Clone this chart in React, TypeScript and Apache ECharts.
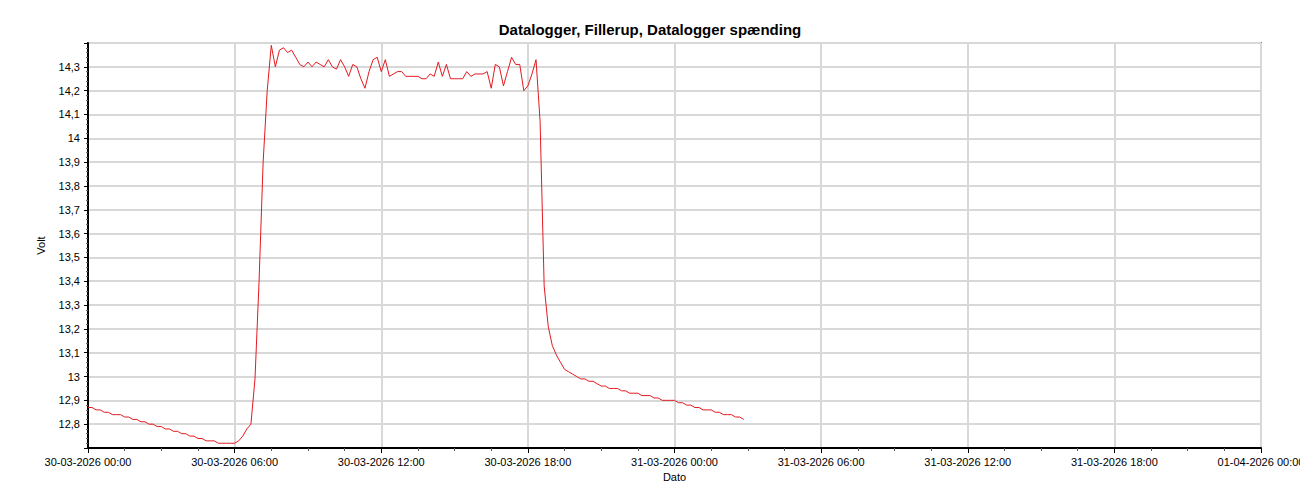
import React, { useEffect, useRef } from "react";
import * as echarts from "echarts";

// Sampling: one reading every 10 minutes starting 30-03-2026 00:00
const SAMPLE_MINUTES = 10;

const X_TICK_LABELS = [
  "30-03-2026 00:00",
  "30-03-2026 06:00",
  "30-03-2026 12:00",
  "30-03-2026 18:00",
  "31-03-2026 00:00",
  "31-03-2026 06:00",
  "31-03-2026 12:00",
  "31-03-2026 18:00",
  "01-04-2026 00:00",
];

const HIDDEN_Y_LABELS = [12.7, 14.4];

const VOLT = [
  // 00:00 - 05:50
  12.87, 12.87, 12.86, 12.86, 12.85, 12.85, 12.84, 12.84, 12.84, 12.83, 12.83, 12.82,
  12.82, 12.81, 12.81, 12.8, 12.8, 12.79, 12.79, 12.78, 12.78, 12.77, 12.77, 12.76,
  12.76, 12.75, 12.75, 12.74, 12.74, 12.73, 12.73, 12.73, 12.72, 12.72, 12.72, 12.72,
  // 06:00 - 07:30
  12.72, 12.73, 12.75, 12.78, 12.8, 12.99, 13.4, 13.9, 14.2, 14.39,
  // 07:40 - 12:50
  14.3, 14.37, 14.38, 14.36, 14.37, 14.34, 14.31, 14.3, 14.32, 14.3, 14.32, 14.31,
  14.3, 14.33, 14.3, 14.29, 14.33, 14.3, 14.26, 14.31, 14.3, 14.25, 14.21, 14.28,
  14.33, 14.34, 14.28, 14.33, 14.26, 14.27, 14.28, 14.28, 14.26,
  // 13:10 - 18:20
  14.26, 14.26, 14.26, 14.25, 14.25, 14.27, 14.26, 14.32, 14.26, 14.31, 14.25, 14.25,
  14.25, 14.25, 14.28, 14.26, 14.27, 14.27, 14.27, 14.28, 14.21, 14.31, 14.3, 14.22,
  14.28, 14.34, 14.31, 14.31, 14.2, 14.22, 14.27, 14.33,
  // 18:30 - 31-03 02:50
  14.07, 13.38, 13.21, 13.13, 13.09, 13.06, 13.03, 13.02, 13.01, 13.0, 12.99, 12.99,
  12.98, 12.98, 12.97, 12.96, 12.96, 12.95, 12.95, 12.95, 12.94, 12.94, 12.93, 12.93,
  12.93, 12.92, 12.92, 12.92, 12.91, 12.91, 12.9, 12.9, 12.9, 12.9, 12.89, 12.89,
  12.88, 12.88, 12.87, 12.87, 12.86, 12.86, 12.86, 12.85, 12.85, 12.84, 12.84, 12.84,
  12.83, 12.83, 12.82,
];

const FONT = "'Liberation Sans', Arial, sans-serif";

export default function App() {
  const ref = useRef<HTMLDivElement>(null);

  useEffect(() => {
    document.body.style.margin = "0";
    if (!ref.current) return;
    const chart = echarts.init(ref.current, null, { renderer: "svg" });
    const data = VOLT.map((v, i) => [(i * SAMPLE_MINUTES) / 60, v]);

    chart.setOption({
      animation: false,
      backgroundColor: "#ffffff",
      title: {
        text: "Datalogger, Fillerup, Datalogger spænding",
        left: "center",
        top: 17,
        textStyle: { fontFamily: FONT, fontSize: 15, fontWeight: "bold", color: "#000" },
      },
      grid: {
        left: 88,
        right: 39,
        top: 43,
        height: 405,
        show: true,
        borderColor: "#808080",
        borderWidth: 2,
        backgroundColor: "#ffffff",
        containLabel: false,
        outerBoundsMode: "none",
      },
      xAxis: {
        type: "value",
        min: 0,
        max: 48,
        interval: 6,
        name: "Dato",
        nameLocation: "middle",
        nameGap: 17,
        nameTextStyle: { fontFamily: FONT, fontSize: 11, color: "#000" },
        axisLine: { show: true, onZero: false, lineStyle: { color: "#000", width: 2 } },
        axisTick: { show: true, length: 5, lineStyle: { color: "#000", width: 1 } },
        minorTick: { show: true, splitNumber: 4, length: 3, lineStyle: { color: "#555", width: 1 } },
        axisLabel: {
          fontFamily: FONT,
          fontSize: 11,
          color: "#000",
          margin: 8,
          showMinLabel: true,
          showMaxLabel: true,
          formatter: (v: number) => X_TICK_LABELS[Math.round(v / 6)] ?? "",
        },
        splitLine: { show: true, lineStyle: { color: "#d8d8d8", width: 2 } },
      },
      yAxis: {
        type: "value",
        min: 12.7,
        max: 14.4,
        interval: 0.1,
        name: "Volt",
        nameLocation: "middle",
        nameRotate: 90,
        nameGap: 42,
        nameTextStyle: { fontFamily: FONT, fontSize: 11, color: "#000" },
        axisLine: { show: true, onZero: false, lineStyle: { color: "#000", width: 2 } },
        axisTick: { show: true, length: 4, lineStyle: { color: "#000", width: 1 } },
        minorTick: { show: true, splitNumber: 5, length: 2, lineStyle: { color: "#666", width: 1 } },
        axisLabel: {
          fontFamily: FONT,
          fontSize: 11,
          color: "#000",
          margin: 8,
          formatter: (v: number) => {
            const r = Math.round(v * 10) / 10;
            if (HIDDEN_Y_LABELS.some((h) => Math.abs(h - r) < 1e-6)) return "";
            return String(r).replace(".", ",");
          },
        },
        splitLine: { show: true, lineStyle: { color: "#d8d8d8", width: 2 } },
      },
      series: [
        {
          type: "line",
          data,
          showSymbol: false,
          symbol: "none",
          lineStyle: { color: "#e3191f", width: 1 },
          clip: true,
        },
      ],
    });

    return () => chart.dispose();
  }, []);

  return <div ref={ref} style={{ width: 1300, height: 500 }} />;
}
